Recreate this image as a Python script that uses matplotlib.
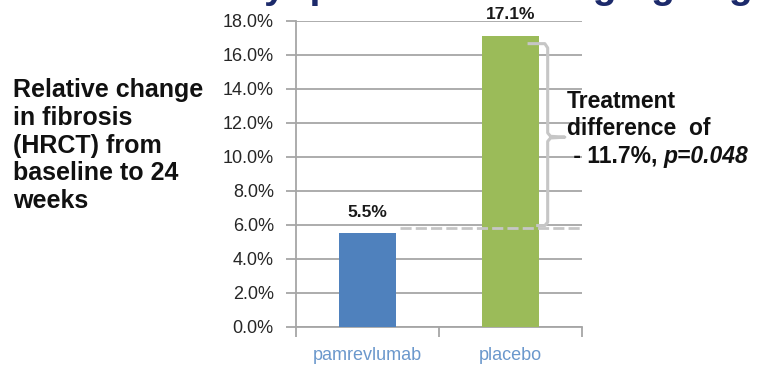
import matplotlib.pyplot as plt
from matplotlib.ticker import FuncFormatter

groups = ["pamrevlumab", "placebo"]
change_pct = [5.5, 17.1]
bar_labels = ["5.5%", "17.1%"]
y_ticks = [0, 2, 4, 6, 8, 10, 12, 14, 16, 18]

bar_colors = ["#4f81bd", "#9bbb59"]
grid_gray = "#a6a6a6"
note_gray = "#c6c6c6"

plt.rcParams['font.family'] = ['Liberation Sans', 'DejaVu Sans']

fig = plt.figure(figsize=(7.66, 3.67), dpi=100)
ax = fig.add_axes([0.3864, 0.1098, 0.3734, 0.8338])

x = range(len(groups))
ax.bar(x, change_pct, width=0.4, color=bar_colors, zorder=3)

ax.set_xlim(-0.5, 1.5)
ax.set_ylim(0, 18)
ax.set_yticks(y_ticks)
ax.yaxis.set_major_formatter(FuncFormatter(lambda v, _: f"{v:.1f}%"))
ax.grid(axis='y', color=grid_gray, linewidth=1.3, zorder=0)
ax.tick_params(axis='y', length=7, color=grid_gray, width=1.3,
               labelsize=13, labelcolor="#262626", pad=9)

# category labels sit under the bars, ticks mark the category edges
ax.set_xticks([-0.5, 0.5, 1.5])
ax.set_xticklabels([])
ax.tick_params(axis='x', length=7, color=grid_gray, width=1.3)
for i, name in enumerate(groups):
    ax.text(i, -1.2, name, ha='center', va='top', fontsize=13,
            color="#6b98cc", clip_on=False)

for s in ['top', 'right']:
    ax.spines[s].set_visible(False)
for s in ['left', 'bottom']:
    ax.spines[s].set_color(grid_gray)
    ax.spines[s].set_linewidth(1.3)

for i, (v, lab) in enumerate(zip(change_pct, bar_labels)):
    ax.text(i, v + 0.8, lab, ha='center', va='bottom', fontsize=12.5,
            fontweight='bold', color="#1a1a1a", clip_on=False)

# dashed reference at the pamrevlumab level and the brace over the gap
ax.plot([0.23, 1.5], [5.8, 5.8], color=note_gray, lw=2, ls=(0, (4, 1.5)),
        zorder=4, clip_on=False)
bx = [1.13, 1.24, 1.26, 1.26, 1.28, 1.38, 1.28, 1.26, 1.26, 1.24, 1.19]
by = [16.65, 16.65, 16.4, 11.4, 11.2, 11.15, 11.1, 10.9, 6.15, 5.95, 5.95]
ax.plot(bx, by, color=note_gray, lw=2.2, zorder=5, clip_on=False,
        solid_joinstyle='round')

note_kw = dict(fontsize=16.5, fontweight='bold', color="#111111")
fig.text(0.740, 1 - 102 / 367, "Treatment", va='center', ha='left', **note_kw)
fig.text(0.740, 1 - 128 / 367, "difference  of", va='center', ha='left', **note_kw)
first = fig.text(0.740, 1 - 156 / 367, " - 11.7%, ", va='center', ha='left', **note_kw)
fig.text(0, 0, "p=0.048", fontstyle='italic', va='bottom', ha='left',
         transform=first.get_transform(), **note_kw)
fig.canvas.draw()
bb = first.get_window_extent().transformed(fig.transFigure.inverted())
fig.texts[-1].set_position((bb.x1, bb.y0))

fig.text(0.017, 1 - 78 / 367,
         "Relative change\nin fibrosis\n(HRCT) from\nbaseline to 24\nweeks",
         fontsize=18, fontweight='bold', va='top', ha='left',
         linespacing=1.2, color="#111111")

fig.text(-0.01, 1.006, "as measured by quantitative imaging segment in",
         fontsize=28, fontweight='bold', color="#1c2a6b", va='baseline')

fig.savefig("out.png", dpi=100)
